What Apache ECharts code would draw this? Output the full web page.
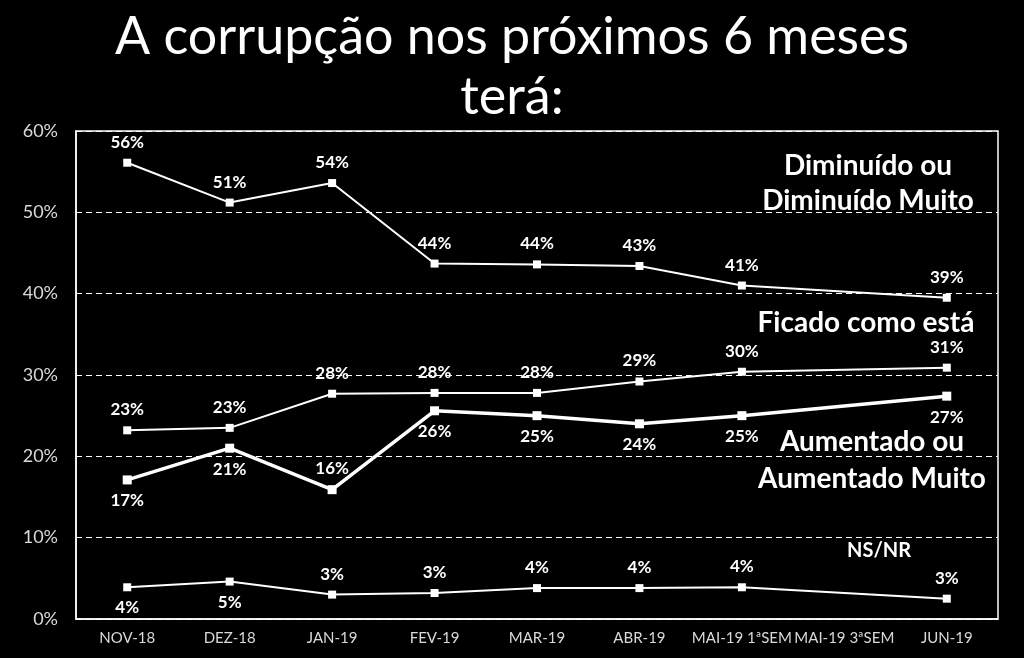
<!DOCTYPE html>
<html>
<head>
<meta charset="utf-8">
<script src="https://cdn.jsdelivr.net/npm/echarts@6/dist/echarts.min.js"></script>
<style>html,body{margin:0;padding:0;background:#000;}#c{width:1024px;height:658px;}</style>
</head>
<body>
<div id="c"></div>
<script>
const categories = ['NOV-18','DEZ-18','JAN-19','FEV-19','MAR-19','ABR-19','MAI-19 1ªSEM','MAI-19 3ªSEM','JUN-19'];
const diminuido = [56.1, 51.2, 53.6, 43.7, 43.6, 43.4, 41.0, null, 39.5];
const ficado = [23.2, 23.5, 27.7, 27.8, 27.8, 29.2, 30.4, null, 30.9];
const aumentado = [17.1, 21.0, 15.9, 25.6, 25.0, 24.0, 25.0, null, 27.4];
const nsnr = [3.9, 4.6, 3.0, 3.2, 3.8, 3.8, 3.9, null, 2.5];
const diminuidoLabels = ['56%','51%','54%','44%','44%','43%','41%','','39%'];
const ficadoLabels = ['23%','23%','28%','28%','28%','29%','30%','','31%'];
const aumentadoLabels = ['17%','21%','16%','26%','25%','24%','25%','','27%'];
const nsnrLabels = ['4%','5%','3%','3%','4%','4%','4%','','3%'];
const aumentadoLabelPos = ['bottom','bottom','top','bottom','bottom','bottom','bottom','bottom','bottom'];
const nsnrLabelPos = ['bottom','bottom','top','top','top','top','top','top','top'];
const yTicks = [0, 10, 20, 30, 40, 50, 60];

const FONT = 'Lato';

function mkData(vals, labels, positions) {
  return vals.map((v, i) => ({
    value: v,
    label: {show: true, position: positions ? positions[i] : 'top', distance: 8,
      formatter: labels[i], color: '#fff', fontFamily: FONT, fontWeight: 'bold', fontSize: 17}
  }));
}

const chart = echarts.init(document.getElementById('c'));
const notes = [
  {text: 'Diminuído ou', x: 868, y: 166, size: 28},
  {text: 'Diminuído Muito', x: 868, y: 201, size: 28},
  {text: 'Ficado como está', x: 866, y: 323, size: 28},
  {text: 'Aumentado ou', x: 872, y: 442, size: 28},
  {text: 'Aumentado Muito', x: 872, y: 479, size: 28},
  {text: 'NS/NR', x: 879, y: 551, size: 20}
];
chart.setOption({
  backgroundColor: '#000',
  animation: false,
  title: {
    text: 'A corrupção nos próximos 6 meses\nterá:',
    left: 'center', top: 2,
    textStyle: {color: '#fff', fontFamily: FONT, fontWeight: 'normal', fontSize: 52, lineHeight: 60}
  },
  grid: {left: 76, right: 26, top: 131, bottom: 39, show: true, borderColor: '#fff', borderWidth: 1.5, backgroundColor: 'transparent'},
  xAxis: {
    type: 'category', data: categories, boundaryGap: true,
    axisLine: {show: true, lineStyle: {color: '#fff', width: 1.5}},
    axisTick: {show: false},
    axisLabel: {color: '#d9d9d9', fontFamily: FONT, fontSize: 15, margin: 12, interval: 0}
  },
  yAxis: {
    type: 'value', min: 0, max: 60, interval: 10,
    axisLine: {show: true, lineStyle: {color: '#fff', width: 1.5}},
    axisTick: {show: false},
    axisLabel: {color: '#d9d9d9', fontFamily: FONT, fontSize: 18, margin: 18,
      formatter: v => yTicks.includes(v) ? v + '%' : ''},
    splitLine: {show: true, lineStyle: {color: '#fff', type: [6, 4], width: 1.2}}
  },
  series: [
    {name: 'Diminuído', type: 'line', data: mkData(diminuido, diminuidoLabels), connectNulls: true,
     symbol: 'rect', symbolSize: 8, lineStyle: {color: '#fff', width: 2}, itemStyle: {color: '#fff'}},
    {name: 'Ficado', type: 'line', data: mkData(ficado, ficadoLabels), connectNulls: true,
     symbol: 'rect', symbolSize: 8, lineStyle: {color: '#fff', width: 2}, itemStyle: {color: '#fff'}},
    {name: 'Aumentado', type: 'line', data: mkData(aumentado, aumentadoLabels, aumentadoLabelPos), connectNulls: true,
     symbol: 'rect', symbolSize: 9, lineStyle: {color: '#fff', width: 3.5}, itemStyle: {color: '#fff'}},
    {name: 'NS/NR', type: 'line', data: mkData(nsnr, nsnrLabels, nsnrLabelPos), connectNulls: true,
     symbol: 'rect', symbolSize: 8, lineStyle: {color: '#fff', width: 2}, itemStyle: {color: '#fff'}}
  ],
  graphic: notes.map(n => ({
    type: 'text', x: n.x, y: n.y,
    style: {text: n.text, fill: '#fff', font: 'bold ' + n.size + 'px Lato', textAlign: 'center', textVerticalAlign: 'middle'}
  }))
});
</script>
</body>
</html>
